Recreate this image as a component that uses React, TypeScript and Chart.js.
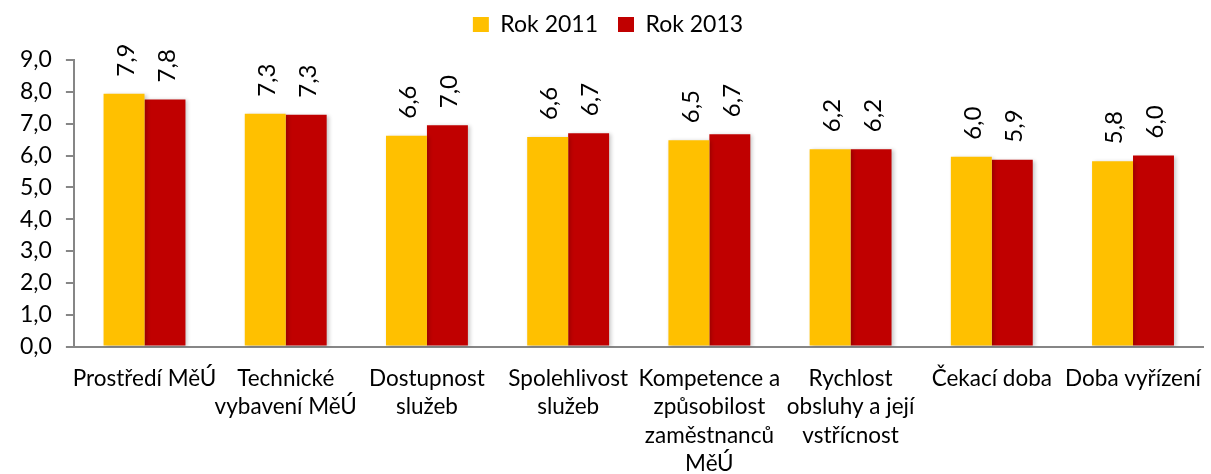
import React, { useEffect, useRef } from "react";
import { Chart, registerables } from "chart.js";

Chart.register(...registerables);

const categories: string[][] = [
  ["Prostředí MěÚ"],
  ["Technické", "vybavení MěÚ"],
  ["Dostupnost", "služeb"],
  ["Spolehlivost", "služeb"],
  ["Kompetence a", "způsobilost", "zaměstnanců", "MěÚ"],
  ["Rychlost", "obsluhy a její", "vstřícnost"],
  ["Čekací doba"],
  ["Doba vyřízení"],
];
const rok2011: number[] = [7.94, 7.31, 6.62, 6.58, 6.48, 6.2, 5.96, 5.82];
const rok2013: number[] = [7.76, 7.28, 6.95, 6.7, 6.67, 6.2, 5.87, 6.0];
const seriesNames = ["Rok 2011", "Rok 2013"];
const colors = ["#FFC000", "#C00000"];
const FONT = "Lato, 'Open Sans', sans-serif";

const fmt = (v: number) => v.toFixed(1).replace(".", ",");

const legendSpacer = {
  id: "legendSpacer",
  beforeInit(chart: any) {
    const legend = chart.legend;
    if (!legend) return;
    const orig = legend.fit;
    legend.fit = function () {
      orig.call(this);
      this.height += 14;
    };
  },
};

const barShadow = {
  id: "barShadow",
  beforeDatasetsDraw(chart: any) {
    const ctx = chart.ctx;
    ctx.save();
    ctx.shadowColor = "rgba(0,0,0,0.22)";
    ctx.shadowBlur = 4;
    ctx.shadowOffsetX = 2;
    ctx.shadowOffsetY = 1;
  },
  afterDatasetsDraw(chart: any) {
    chart.ctx.restore();
  },
};

const valueLabels = {
  id: "valueLabels",
  afterDatasetsDraw(chart: any) {
    const ctx = chart.ctx;
    chart.data.datasets.forEach((ds: any, i: number) => {
      const meta = chart.getDatasetMeta(i);
      meta.data.forEach((el: any, j: number) => {
        ctx.save();
        ctx.translate(el.x + 2, el.y - 17);
        ctx.rotate(-Math.PI / 2);
        ctx.font = `24px ${FONT}`;
        ctx.fillStyle = "#000";
        ctx.textAlign = "left";
        ctx.textBaseline = "middle";
        ctx.fillText(fmt(ds.data[j]), 0, 0);
        ctx.restore();
      });
    });
  },
};

export default function App() {
  const ref = useRef<HTMLCanvasElement>(null);
  useEffect(() => {
    if (!ref.current) return;
    const chart = new Chart(ref.current, {
      type: "bar",
      data: {
        labels: categories,
        datasets: [
          { label: seriesNames[0], data: rok2011, backgroundColor: colors[0] },
          { label: seriesNames[1], data: rok2013, backgroundColor: colors[1] },
        ],
      },
      options: {
        animation: false,
        responsive: false,
        maintainAspectRatio: false,
        layout: { padding: { left: 6, right: 1, top: -7, bottom: -14 } },
        datasets: { bar: { categoryPercentage: 0.58, barPercentage: 1 } },
        plugins: {
          legend: {
            position: "top",
            labels: {
              boxWidth: 16,
              boxHeight: 15,
              color: "#000",
              font: { family: FONT, size: 23 },
              padding: 20,
            },
          },
          tooltip: { enabled: false },
        },
        scales: {
          x: {
            grid: { display: false },
            border: { display: true, color: "#868686", width: 2 },
            ticks: {
              color: "#000",
              font: { family: FONT, size: 22.5, lineHeight: 1.26 },
              maxRotation: 0,
              autoSkip: false,
              padding: 10,
            },
          },
          y: {
            min: 0,
            max: 9,
            grid: { display: true, drawOnChartArea: false, tickLength: 8, color: "#868686", lineWidth: 2 },
            border: { display: true, color: "#868686", width: 2 },
            ticks: {
              stepSize: 1,
              autoSkip: false,
              color: "#000",
              font: { family: FONT, size: 23 },
              padding: 14,
              callback: (v: any) => fmt(Number(v)),
            },
          },
        },
      },
      plugins: [legendSpacer, barShadow, valueLabels],
    });
    return () => chart.destroy();
  }, []);
  return (
    <div style={{ position: "absolute", left: 0, top: 0, width: 1211, height: 474, background: "#fff" }}>
      <canvas ref={ref} width={1211} height={474} />
    </div>
  );
}
